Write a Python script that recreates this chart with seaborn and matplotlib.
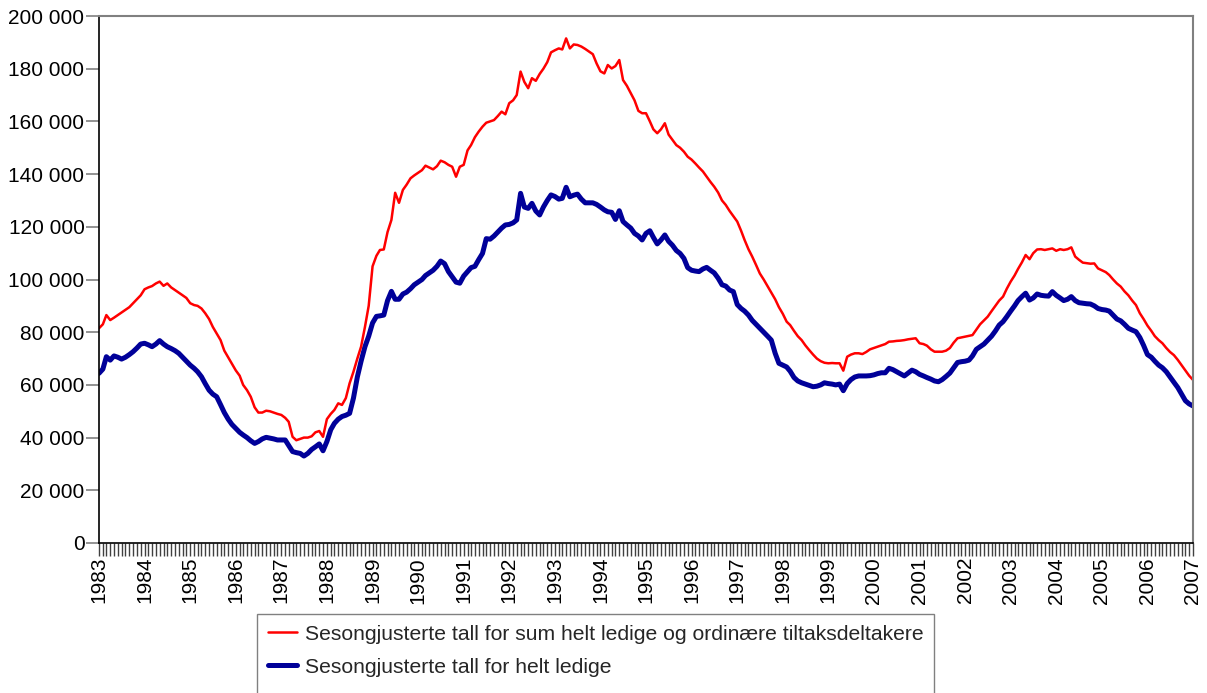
import numpy as np
import pandas as pd
import matplotlib
matplotlib.use("Agg")
import matplotlib.pyplot as plt
import matplotlib.dates as mdates
from matplotlib.ticker import FuncFormatter, MultipleLocator
from matplotlib.lines import Line2D
import seaborn as sns

# monthly values, first point January 1983, last point January 2007
start_month = "1983-01-01"
label_total = "Sesongjusterte tall for sum helt ledige og ordinære tiltaksdeltakere"
label_ledige = "Sesongjusterte tall for helt ledige"

# sum helt ledige + ordinære tiltaksdeltakere, in thousands (one row per year)
total_k = [
    81.5, 83.0, 86.5, 84.6, 85.5, 86.5, 87.5, 88.5, 89.5, 91.0, 92.5, 94.0,          # 1983
    96.3, 97.0, 97.5, 98.5, 99.2, 97.6, 98.5, 97.0, 96.0, 95.0, 94.0, 93.0,          # 1984
    91.0, 90.3, 90.0, 89.0, 87.2, 85.0, 82.0, 79.5, 77.0, 73.0, 70.5, 68.0,          # 1985
    65.5, 63.5, 60.0, 58.0, 55.5, 51.5, 49.5, 49.5, 50.2, 50.0, 49.5, 49.0,          # 1986
    48.6, 47.5, 46.0, 40.3, 39.0, 39.5, 40.0, 40.0, 40.5, 42.0, 42.5, 40.3,          # 1987
    47.0, 49.0, 50.5, 53.0, 52.4, 55.0, 60.6, 65.0, 70.0, 74.5, 82.0, 90.0,          # 1988
    105.0, 109.0, 111.2, 111.4, 118.0, 122.6, 132.9, 129.1, 134.0, 136.0, 138.4, 139.5,  # 1989
    140.5, 141.5, 143.2, 142.5, 141.8, 143.0, 145.1, 144.5, 143.5, 142.8, 139.0, 142.8,  # 1990
    143.5, 149.0, 151.0, 154.0, 156.1, 158.0, 159.5, 160.0, 160.5, 162.0, 163.7, 162.7,  # 1991
    166.9, 168.0, 170.0, 178.9, 175.0, 172.6, 176.4, 175.4, 178.0, 180.0, 182.5, 186.2,  # 1992
    187.0, 187.7, 187.3, 191.5, 187.7, 189.2, 189.0, 188.4, 187.5, 186.5, 185.5, 182.0,  # 1993
    179.0, 178.2, 181.4, 180.1, 181.0, 183.3, 175.7, 173.5, 170.7, 168.0, 164.0, 163.1,  # 1994
    163.1, 160.0, 157.0, 155.5, 157.0, 159.3, 155.0, 153.0, 151.0, 150.0, 148.5, 146.6,  # 1995
    145.5, 144.0, 142.5, 141.0, 139.0, 137.0, 135.2, 133.0, 130.0, 128.3, 126.0, 124.0,  # 1996
    122.0, 118.5, 115.0, 111.5, 108.7, 105.5, 102.3, 100.0, 97.5, 95.0, 92.5, 89.5,      # 1997
    87.0, 84.0, 82.7, 80.5, 78.5, 77.0, 75.0, 73.2, 71.5, 70.0, 69.0, 68.4,          # 1998
    68.2, 68.3, 68.2, 68.2, 65.4, 70.7, 71.5, 72.0, 72.0, 71.7, 72.5, 73.5,          # 1999
    74.0, 74.5, 75.0, 75.5, 76.4, 76.5, 76.7, 76.8, 77.0, 77.3, 77.5, 77.7,          # 2000
    75.8, 75.5, 74.9, 73.5, 72.6, 72.6, 72.6, 73.0, 74.0, 76.0, 77.7, 78.0,          # 2001
    78.3, 78.6, 78.9, 81.0, 83.0, 84.5, 85.9, 88.0, 90.0, 92.0, 93.5, 96.5,          # 2002
    99.2, 101.5, 104.0, 106.5, 109.3, 107.7, 110.0, 111.4, 111.5, 111.2, 111.5, 111.8,  # 2003
    110.9, 111.5, 111.2, 111.5, 112.2, 108.7, 107.5, 106.4, 106.2, 106.0, 106.1, 104.2,  # 2004
    103.5, 102.8, 101.7, 100.0, 98.5, 97.3, 95.5, 94.0, 92.0, 90.3, 87.2, 85.0,      # 2005
    82.5, 80.5, 78.5, 77.0, 75.8, 74.0, 72.5, 71.3, 69.5, 67.5, 65.5, 63.5,          # 2006
    61.9,                                                                            # 2007
]

# helt ledige, in thousands (one row per year)
ledige_k = [
    64.4, 66.0, 70.7, 69.4, 71.0, 70.5, 69.8, 70.5, 71.5, 72.6, 74.0, 75.5,          # 1983
    75.8, 75.2, 74.5, 75.5, 76.8, 75.5, 74.5, 73.8, 73.0, 72.0, 70.5, 69.0,          # 1984
    67.5, 66.3, 65.0, 63.1, 60.5, 58.0, 56.5, 55.5, 52.5, 49.5, 47.0, 45.0,          # 1985
    43.5, 42.0, 41.0, 40.0, 38.8, 37.8, 38.5, 39.5, 40.1, 39.8, 39.5, 39.1,          # 1986
    39.1, 39.1, 37.0, 34.7, 34.3, 34.0, 33.0, 34.0, 35.5, 36.5, 37.6, 35.0,          # 1987
    38.5, 43.0, 45.4, 47.0, 48.0, 48.5, 49.2, 55.0, 63.0, 69.0, 74.5, 78.5,          # 1988
    83.5, 86.0, 86.2, 86.5, 92.0, 95.5, 92.5, 92.5, 94.5, 95.2, 96.5, 98.0,          # 1989
    99.0, 100.0, 101.5, 102.5, 103.5, 105.0, 107.0, 106.0, 103.0, 101.0, 99.0, 98.6,  # 1990
    101.3, 103.0, 104.5, 105.0, 107.5, 109.9, 115.5, 115.3, 116.5, 118.0, 119.5, 120.7,  # 1991
    120.9, 121.5, 122.6, 132.7, 127.5, 127.0, 128.9, 126.0, 124.5, 127.5, 130.0, 132.1,  # 1992
    131.5, 130.5, 130.8, 135.0, 131.4, 132.0, 132.4, 130.5, 129.1, 129.1, 129.1, 128.5,  # 1993
    127.5, 126.4, 125.7, 125.5, 122.8, 126.1, 122.0, 120.7, 119.5, 117.5, 116.5, 115.0,  # 1994
    117.5, 118.5, 116.0, 113.5, 115.0, 116.9, 114.5, 113.0, 111.0, 109.9, 108.0, 104.5,  # 1995
    103.5, 103.2, 103.0, 104.0, 104.6, 103.5, 102.5, 100.5, 98.0, 97.5, 96.0, 95.4,   # 1996
    90.5, 89.0, 88.0, 86.5, 84.5, 83.0, 81.5, 80.0, 78.5, 77.0, 72.0, 68.2,          # 1997
    67.5, 66.8, 65.2, 62.8, 61.5, 60.8, 60.3, 59.8, 59.3, 59.5, 60.0, 60.8,          # 1998
    60.5, 60.3, 60.0, 60.3, 57.8, 60.5, 62.0, 63.0, 63.4, 63.4, 63.4, 63.5,          # 1999
    63.8, 64.3, 64.6, 64.6, 66.3, 65.8, 65.0, 64.2, 63.4, 64.5, 65.6, 65.0,          # 2000
    64.0, 63.4, 62.8, 62.2, 61.5, 61.2, 62.0, 63.2, 64.5, 66.5, 68.5, 68.8,          # 2001
    69.0, 69.4, 71.0, 73.5, 74.5, 75.5, 77.0, 78.5, 80.5, 82.7, 84.0, 85.9,          # 2002
    88.0, 90.0, 92.0, 93.5, 94.8, 92.2, 93.0, 94.5, 94.0, 93.8, 93.7, 95.4,          # 2003
    94.0, 93.0, 92.0, 92.5, 93.5, 92.0, 91.2, 91.0, 90.8, 90.7, 90.0, 89.0,          # 2004
    88.6, 88.4, 88.0, 86.5, 85.0, 84.3, 83.0, 81.5, 80.8, 80.2, 78.0, 75.0,          # 2005
    71.5, 70.5, 69.0, 67.5, 66.5, 65.0, 63.0, 61.0, 59.0, 56.5, 54.0, 52.8,          # 2006
    52.0,                                                                            # 2007
]

dates = pd.date_range(start_month, periods=len(total_k), freq="MS")
df = pd.DataFrame({
    "dato": dates,
    "total": np.array(total_k) * 1000,
    "ledige": np.array(ledige_k) * 1000,
})

red = "#FF0000"
navy = "#000099"
fs = 15

sns.set_theme(style="ticks")
plt.rcParams["font.family"] = ["Liberation Sans", "DejaVu Sans"]

W, H = 1207, 693
fig = plt.figure(figsize=(W / 100, H / 100), dpi=100)
ax = fig.add_axes([99 / W, 1 - 543 / H, (1193 - 99) / W, (543 - 16) / H])

sns.lineplot(data=df, x="dato", y="ledige", color=navy, linewidth=3.6, ax=ax)
sns.lineplot(data=df, x="dato", y="total", color=red, linewidth=1.8, ax=ax)

ax.set_xlim(dates[0], dates[-1])
ax.set_ylim(0, 200000)
ax.set_xlabel("")
ax.set_ylabel("")

ax.yaxis.set_major_locator(MultipleLocator(20000))
ax.yaxis.set_major_formatter(FuncFormatter(lambda v, p: f"{int(v):,}".replace(",", " ")))
ax.xaxis.set_major_locator(mdates.YearLocator())
ax.xaxis.set_major_formatter(mdates.DateFormatter("%Y"))
ax.xaxis.set_minor_locator(mdates.MonthLocator())

ax.tick_params(axis="x", which="both", length=9, width=1, color="#404040",
               labelsize=fs, labelrotation=90, pad=1, labelcolor="black")
ax.tick_params(axis="y", length=9.5, width=1.2, color="#808080",
               labelsize=fs, pad=1, labelcolor="black")

for side in ["left", "bottom"]:
    ax.spines[side].set_color("black")
    ax.spines[side].set_linewidth(1.2)
for side in ["top", "right"]:
    ax.spines[side].set_visible(True)
    ax.spines[side].set_color("#808080")
    ax.spines[side].set_linewidth(1.5)

# third, empty row makes the frame run off the bottom edge like the original
handles = [Line2D([], [], color=red, linewidth=1.8),
           Line2D([], [], color=navy, linewidth=3.6),
           Line2D([], [], color="none")]
fig.legend(handles, [label_total, label_ledige, " "], loc="upper left",
           bbox_to_anchor=(257 / W, 1 - 614 / H), frameon=True, fancybox=False,
           edgecolor="#808080", framealpha=1, fontsize=15.25, handlelength=1.4,
           handletextpad=0.35, labelspacing=0.66, borderpad=0.5, borderaxespad=0)

fig.savefig("out.png", dpi=100)
